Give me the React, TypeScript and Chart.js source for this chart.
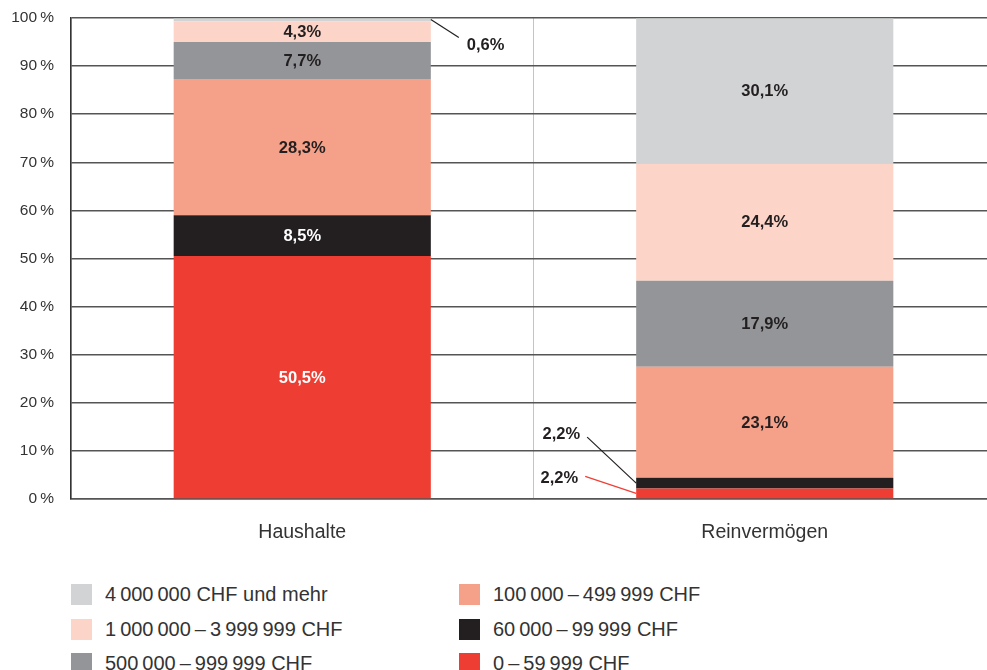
import React, { useEffect, useRef } from "react";
import { Chart, registerables } from "chart.js";

Chart.register(...registerables);

const categories = ["Haushalte", "Reinvermögen"];
const seriesNames = [
  "0\u2009–\u200959\u2009999 CHF",
  "60\u2009000\u2009–\u200999\u2009999 CHF",
  "100\u2009000\u2009–\u2009499\u2009999 CHF",
  "500\u2009000\u2009–\u2009999\u2009999 CHF",
  "1\u2009000\u2009000\u2009–\u20093\u2009999\u2009999 CHF",
  "4\u2009000\u2009000 CHF und mehr",
];
const s0to60k = [50.5, 2.2];
const s60to100k = [8.5, 2.2];
const s100to500k = [28.3, 23.1];
const s500kto1m = [7.7, 17.9];
const s1mto4m = [4.3, 24.4];
const s4mPlus = [0.6, 30.1];
const seriesValues = [s0to60k, s60to100k, s100to500k, s500kto1m, s1mto4m, s4mPlus];
const yTicks = [0, 10, 20, 30, 40, 50, 60, 70, 80, 90, 100];

const colors = ["#EE3E33", "#231F20", "#F5A088", "#939598", "#FCD5C8", "#D1D3D4"];
const labelColors = ["#ffffff", "#ffffff", "#231F20", "#231F20", "#231F20", "#231F20"];

// callout styling: [datasetIndex, dataIndex] -> leader line geometry relative to segment
const callouts: { ds: number; idx: number; side: "right-top" | "left"; dy0: number; dx: number; dy: number; ty: number; lineColor: string }[] = [
  { ds: 5, idx: 0, side: "right-top", dy0: 1, dx: 28, dy: 18, ty: 8, lineColor: "#231F20" },
  { ds: 1, idx: 1, side: "left", dy0: -4, dx: -49, dy: -46, ty: -3, lineColor: "#231F20" },
  { ds: 0, idx: 1, side: "left", dy0: -4, dx: -51, dy: -17, ty: 2, lineColor: "#EE3E33" },
];

const legendLayout = [
  { ds: 5, col: 0, row: 0 },
  { ds: 4, col: 0, row: 1 },
  { ds: 3, col: 0, row: 2 },
  { ds: 2, col: 1, row: 0 },
  { ds: 1, col: 1, row: 1 },
  { ds: 0, col: 1, row: 2 },
];

const FONT = "'Liberation Sans', Arial, sans-serif";

const fmt = (v: number) => v.toFixed(1).replace(".", ",") + "%";

const labelPlugin = {
  id: "segLabels",
  afterDatasetsDraw(chart: any) {
    const ctx = chart.ctx;
    ctx.save();
    ctx.font = `bold 16.5px ${FONT}`;
    chart.data.datasets.forEach((ds: any, i: number) => {
      const meta = chart.getDatasetMeta(i);
      meta.data.forEach((el: any, j: number) => {
        const v = ds.data[j];
        const { x, y, base, width } = el.getProps(["x", "y", "base", "width"], true);
        const co = callouts.find((c) => c.ds === i && c.idx === j);
        if (co) {
          let sx: number, sy: number;
          if (co.side === "right-top") {
            sx = x + width / 2;
            sy = y + co.dy0;
          } else {
            sx = x - width / 2;
            sy = (y + base) / 2 + co.dy0 + 4;
          }
          const ex = sx + co.dx;
          const ey = sy + co.dy;
          ctx.strokeStyle = co.lineColor;
          ctx.lineWidth = 1.2;
          ctx.beginPath();
          ctx.moveTo(sx, sy);
          ctx.lineTo(ex, ey);
          ctx.stroke();
          ctx.fillStyle = "#231F20";
          ctx.textBaseline = "middle";
          if (co.side === "right-top") {
            ctx.textAlign = "left";
            ctx.fillText(fmt(v), ex + 8, ey + co.ty);
          } else {
            ctx.textAlign = "right";
            ctx.fillText(fmt(v), ex - 7, ey + co.ty);
          }
        } else {
          ctx.fillStyle = labelColors[i];
          ctx.textAlign = "center";
          ctx.textBaseline = "middle";
          ctx.fillText(fmt(v), x, (y + base) / 2 + 1);
        }
      });
    });
    ctx.restore();
  },
};

export default function App() {
  const ref = useRef<HTMLCanvasElement>(null);
  useEffect(() => {
    if (!ref.current) return;
    const chart = new Chart(ref.current, {
      type: "bar",
      data: {
        labels: categories,
        datasets: seriesValues.map((vals, i) => ({
          label: seriesNames[i],
          data: vals,
          backgroundColor: colors[i],
          borderWidth: 0,
          categoryPercentage: 1,
          barPercentage: 0.556,
        })),
      },
      options: {
        animation: false,
        responsive: false,
        maintainAspectRatio: false,
        layout: { padding: { top: 18, right: 0, left: 0, bottom: 0 } },
        plugins: {
          legend: { display: false },
          tooltip: { enabled: false },
        },
        scales: {
          x: {
            stacked: true,
            afterFit: (s: any) => {
              s.height = 61;
              s.paddingLeft = 0;
              s.paddingRight = 0;
            },
            grid: { color: "#c4c4c4", lineWidth: 1, drawTicks: false, offset: true },
            border: { color: "#555", width: 1.5 },
            ticks: { color: "#333", font: { family: FONT, size: 19.5 }, padding: 22 },
          },
          y: {
            stacked: true,
            min: 0,
            max: 100,
            afterFit: (s: any) => {
              s.width = 71;
              s.paddingTop = 0;
              s.paddingBottom = 0;
            },
            afterBuildTicks: (s: any) => {
              s.ticks = yTicks.map((v) => ({ value: v }));
            },
            grid: { color: "#555", lineWidth: 1.5, drawTicks: false },
            border: { color: "#333", width: 1.5 },
            ticks: {
              color: "#333",
              font: { family: FONT, size: 15.5 },
              padding: 17,
              callback: (v: any) => `${v}\u2009%`,
            },
          },
        },
      },
      plugins: [labelPlugin],
    });
    return () => chart.destroy();
  }, []);

  return (
    <div style={{ position: "absolute", left: 0, top: 0, width: 987, height: 670, overflow: "hidden", background: "#fff" }}>
      <canvas ref={ref} width={996} height={560} style={{ position: "absolute", left: 0, top: 0, width: 996, height: 560 }} />
      {legendLayout.map((l) => (
        <div
          key={l.ds}
          style={{
            position: "absolute",
            left: l.col === 0 ? 71 : 459,
            top: 584 + l.row * 34.5,
            height: 21,
            display: "flex",
            alignItems: "center",
            fontFamily: FONT,
            fontSize: 20,
            color: "#333",
            whiteSpace: "nowrap",
          }}
        >
          <span style={{ display: "inline-block", width: 21, height: 21, background: colors[l.ds], marginRight: 13, flexShrink: 0 }} />
          <span>{seriesNames[l.ds]}</span>
        </div>
      ))}
    </div>
  );
}
